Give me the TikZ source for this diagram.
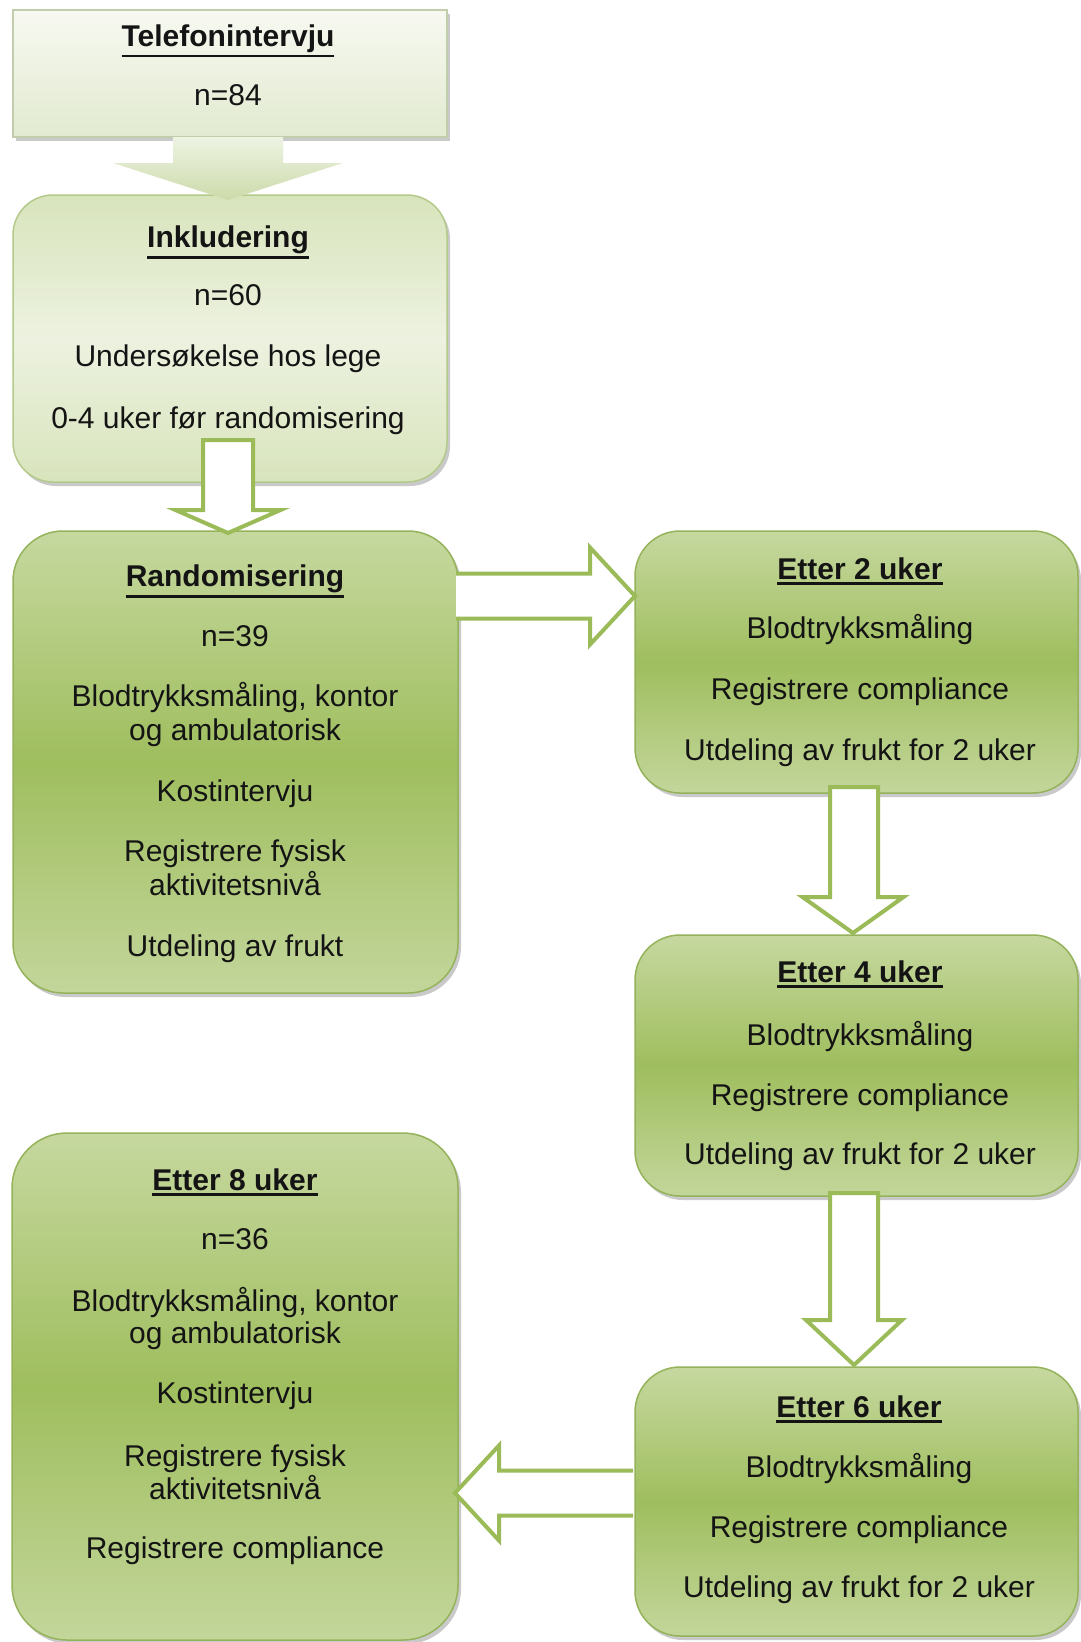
\documentclass[tikz,border=0pt]{standalone}
\usepackage{fontspec}
\setmainfont{Liberation Sans}
\usetikzlibrary{calc,shadows}
\definecolor{gborder}{HTML}{94B35A}
\definecolor{gtop}{HTML}{C6D89F}
\definecolor{gmid}{HTML}{9FBE5E}
\definecolor{gbot}{HTML}{C3D69B}
\definecolor{ltop}{HTML}{F7F9F1}
\definecolor{lbot}{HTML}{E2EAD0}
\definecolor{pale}{HTML}{D8E4BC}
\definecolor{palec}{HTML}{EDF2E0}
\definecolor{arrline}{HTML}{9BBB59}
\definecolor{atop}{HTML}{EEF3E3}
\definecolor{abot}{HTML}{CCDBAA}
\definecolor{textc}{HTML}{141414}
\newcommand\myttl[1]{\leavevmode\vtop{\hbox{\textbf{#1}}\kern3pt\hrule height 2.2pt}}
\begin{document}
\begin{tikzpicture}[x=1pt,y=-1pt,
  box/.style={draw=gborder, line width=1.5pt, inner sep=0pt, outer sep=0pt,
    drop shadow={shadow xshift=3pt, shadow yshift=-4pt, opacity=0.35, fill=black!60}},
  greenbox/.style={box, top color=gtop, bottom color=gbot, middle color=gmid},
  lightbox/.style={box, draw=black!20!gborder!45, top color=ltop, bottom color=lbot},
  palebox/.style={box, draw=gborder!70, top color=pale, bottom color=pale, middle color=palec},
  outarrow/.style={draw=arrline, line width=4pt, fill=white, line join=miter},
  txt/.style={font=\fontsize{30}{36}\selectfont, text=textc, anchor=base, inner sep=0pt}
]
\useasboundingbox (0,0) rectangle (1080,1642);
\fill[white] (0,0) rectangle (1080,1642);

% boxes
\node[lightbox, minimum width=434pt, minimum height=127pt] (b1) at (230,73.5) {};
\node[palebox, rounded corners=40pt, minimum width=434pt, minimum height=287pt] (b2) at (230,338.5) {};
\node[greenbox, rounded corners=50pt, minimum width=445pt, minimum height=462pt] (b3) at (235.5,762) {};
\node[greenbox, rounded corners=45pt, minimum width=443pt, minimum height=262pt] (b4) at (856.5,662) {};
\node[greenbox, rounded corners=45pt, minimum width=443pt, minimum height=261pt] (b5) at (856.5,1065.5) {};
\node[greenbox, rounded corners=45pt, minimum width=443pt, minimum height=269pt] (b6) at (856.5,1501.5) {};
\node[greenbox, rounded corners=55pt, minimum width=446pt, minimum height=507pt] (b7) at (235,1386.5) {};

% arrow 1 (filled)
\coordinate (a1s) at ($(b1.south)+(-2,0)$);
\coordinate (a1t) at ($(b2.north)+(-2,5)$);
\shade[top color=atop, bottom color=abot]
  ($(a1s)+(-55,0)$) -- ($(a1s)+(-55,26)$) -- ($(a1s)+(-115,26)$) -- (a1t)
  -- ($(a1s)+(115,26)$) -- ($(a1s)+(55,26)$) -- ($(a1s)+(55,0)$) -- cycle;

% arrow 2
\coordinate (a2s) at ($(b2.south)+(-2,-42)$);
\coordinate (a2t) at ($(a2s |- b3.north)+(0,2)$);
\draw[outarrow] ($(a2s)+(-25,0)$) -- ($(a2t)+(-25,-23)$) -- ($(a2t)+(-52.5,-23)$) -- (a2t)
  -- ($(a2t)+(52.5,-23)$) -- ($(a2t)+(25,-23)$) -- ($(a2s)+(25,0)$) -- cycle;

% arrow 3 (right)
\coordinate (a3s) at (b3.east |- 0,596);
\coordinate (a3t) at (b4.west |- 0,596);
\draw[outarrow] ($(a3s)+(-2,-22.5)$) -- ($(a3t)+(-45,-22.5)$) -- ($(a3t)+(-45,-48.5)$) -- (a3t)
  -- ($(a3t)+(-45,48.5)$) -- ($(a3t)+(-45,22.5)$) -- ($(a3s)+(-2,22.5)$);

% arrow 4 (down)
\coordinate (a4s) at ($(b4.south)+(-2.5,-6)$);
\coordinate (a4t) at ($(b5.north)+(-3.5,-2)$);
\draw[outarrow] ($(a4s)+(-24,0)$) -- ($(a4t)+(-23,-36)$) -- ($(a4t)+(-50.5,-36)$) -- (a4t)
  -- ($(a4t)+(50.5,-36)$) -- ($(a4t)+(25,-36)$) -- ($(a4s)+(24,0)$) -- cycle;

% arrow 5 (down)
\coordinate (a5s) at ($(b5.south)+(-2.5,-3)$);
\coordinate (a5t) at ($(b6.north)+(-2.5,-2)$);
\draw[outarrow] ($(a5s)+(-24,0)$) -- ($(a5t)+(-24,-45)$) -- ($(a5t)+(-48,-45)$) -- (a5t)
  -- ($(a5t)+(48,-45)$) -- ($(a5t)+(24,-45)$) -- ($(a5s)+(24,0)$) -- cycle;

% arrow 6 (left)
\coordinate (a6s) at (b6.west |- 0,1493);
\coordinate (a6t) at ($(b7.east |- 0,1493)+(-3,0)$);
\draw[outarrow] ($(a6s)+(-2,-22.5)$) -- ($(a6t)+(44,-22.5)$) -- ($(a6t)+(44,-47.5)$) -- (a6t)
  -- ($(a6t)+(44,47.5)$) -- ($(a6t)+(44,22.5)$) -- ($(a6s)+(-2,22.5)$);

% texts box 1
\node[txt] (t1a) at (228,46) {\myttl{Telefonintervju}};
\node[txt] (t1b) at (228,105) {n=84};
% box 2
\node[txt] (t2a) at (228,247) {\myttl{Inkludering}};
\node[txt] (t2b) at (228,305) {n=60};
\node[txt] (t2c) at (228,366) {Undersøkelse hos lege};
\node[txt] (t2d) at (228,428) {0-4 uker før randomisering};
% box 3
\node[txt] (t3a) at (235,586) {\myttl{Randomisering}};
\node[txt] (t3b) at (235,646) {n=39};
\node[txt] (t3c) at (235,706) {Blodtrykksmåling, kontor};
\node[txt] (t3d) at (235,740) {og ambulatorisk};
\node[txt] (t3e) at (235,801) {Kostintervju};
\node[txt] (t3f) at (235,861) {Registrere fysisk};
\node[txt] (t3g) at (235,895) {aktivitetsnivå};
\node[txt] (t3h) at (235,956) {Utdeling av frukt};
% box 4
\node[txt] (t4a) at (860,579) {\myttl{Etter 2 uker}};
\node[txt] (t4b) at (860,638) {Blodtrykksmåling};
\node[txt] (t4c) at (860,699) {Registrere compliance};
\node[txt] (t4d) at (860,760) {Utdeling av frukt for 2 uker};
% box 5
\node[txt] (t5a) at (860,982) {\myttl{Etter 4 uker}};
\node[txt] (t5b) at (860,1045) {Blodtrykksmåling};
\node[txt] (t5c) at (860,1105) {Registrere compliance};
\node[txt] (t5d) at (860,1164) {Utdeling av frukt for 2 uker};
% box 6
\node[txt] (t6a) at (859,1417) {\myttl{Etter 6 uker}};
\node[txt] (t6b) at (859,1477) {Blodtrykksmåling};
\node[txt] (t6c) at (859,1537) {Registrere compliance};
\node[txt] (t6d) at (859,1597) {Utdeling av frukt for 2 uker};
% box 7
\node[txt] (t7a) at (235,1190) {\myttl{Etter 8 uker}};
\node[txt] (t7b) at (235,1249) {n=36};
\node[txt] (t7c) at (235,1311) {Blodtrykksmåling, kontor};
\node[txt] (t7d) at (235,1343) {og ambulatorisk};
\node[txt] (t7e) at (235,1403) {Kostintervju};
\node[txt] (t7f) at (235,1466) {Registrere fysisk};
\node[txt] (t7g) at (235,1499) {aktivitetsnivå};
\node[txt] (t7h) at (235,1558) {Registrere compliance};
\end{tikzpicture}
\end{document}
